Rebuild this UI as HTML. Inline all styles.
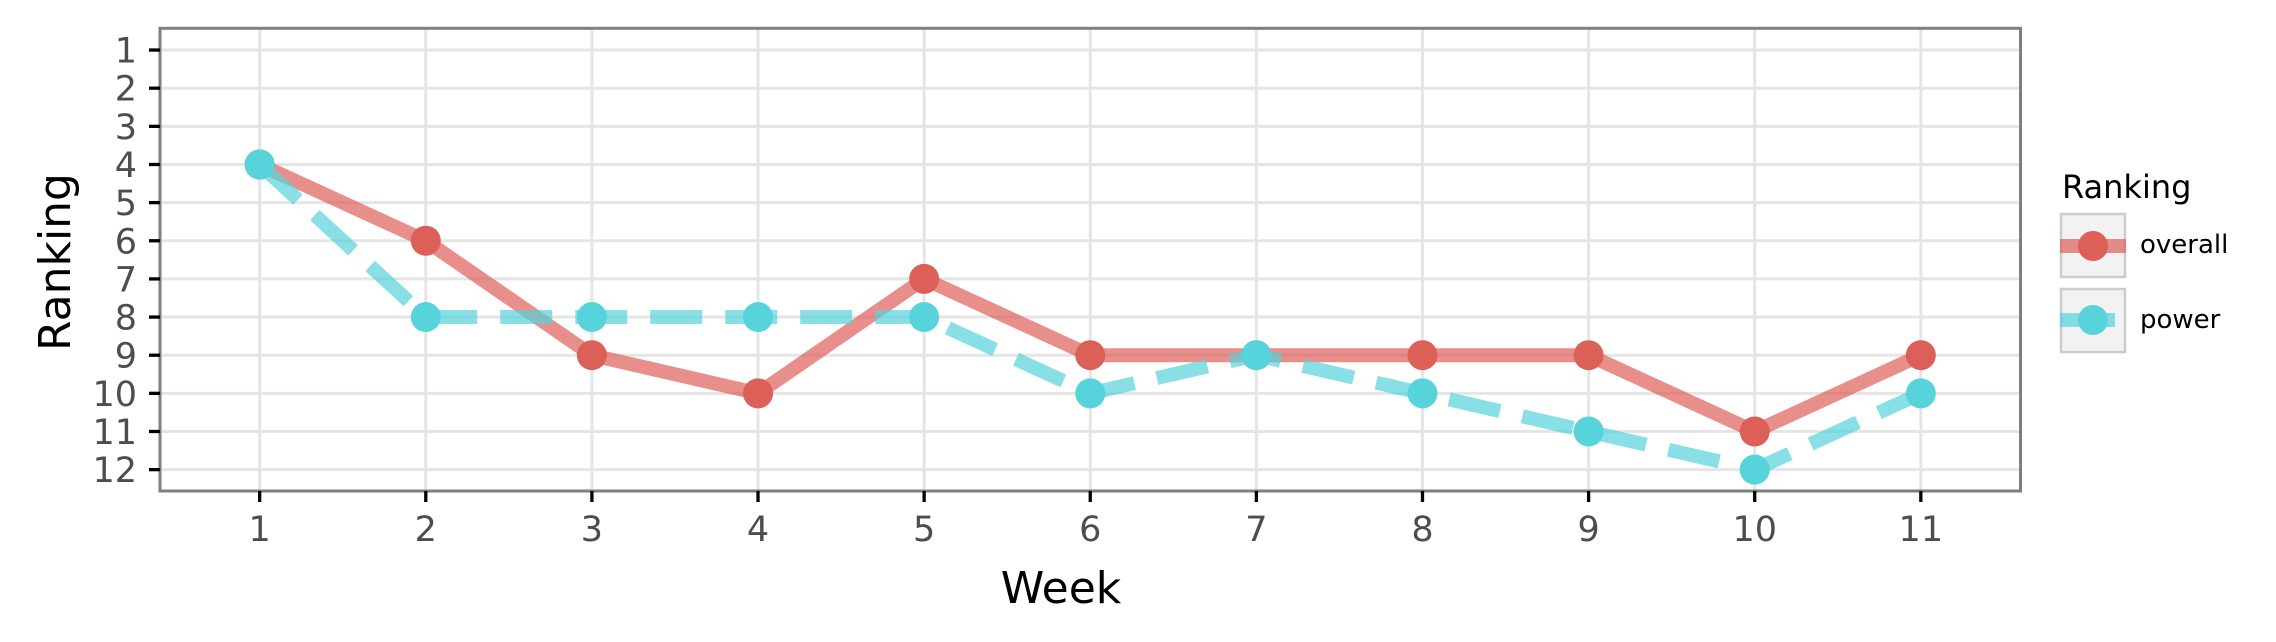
<!DOCTYPE html>
<html><head><meta charset="utf-8"><style>
html,body{margin:0;padding:0;background:#fff;}
svg{display:block;font-family:"DejaVu Sans","Liberation Sans",sans-serif;}
</style></head><body>
<svg id="chart" width="2276" height="642" viewBox="0 0 2276 642">
<g id="grid"></g>
<g id="series"></g>
<rect x="160" y="28.3" width="1860.5" height="462.7" fill="none" stroke="#7f7f7f" stroke-width="3"/>
<g id="axes"></g>
<text x="1061" y="603" font-size="44" text-anchor="middle" fill="#000">Week</text>
<text transform="translate(70,262) rotate(-90)" font-size="44" text-anchor="middle" fill="#000">Ranking</text>
<g>
<text x="2062" y="198" font-size="32" fill="#000">Ranking</text>
<g>
<rect x="2061" y="214" width="64" height="63" fill="#f2f2f2" stroke="#cccccc" stroke-width="2.5"/>
<line x1="2060" x2="2126" y1="246" y2="246" stroke="#e0605a" stroke-opacity="0.7" stroke-width="14"/>
<circle cx="2093" cy="246" r="15" fill="#dc5f58"/>
<text x="2140" y="253" font-size="26" fill="#000">overall</text>
</g>
<g>
<rect x="2061" y="289" width="64" height="63" fill="#f2f2f2" stroke="#cccccc" stroke-width="2.5"/>
<line x1="2060" x2="2115" y1="320" y2="320" stroke="#56d3db" stroke-opacity="0.7" stroke-width="14"/>
<circle cx="2093" cy="320" r="15" fill="#56d3db"/>
<text x="2140" y="328" font-size="26" fill="#000">power</text>
</g>
</g>
</svg>
<script>
const weeks=[1,2,3,4,5,6,7,8,9,10,11];
const overall=[4,6,9,10,7,9,9,9,9,11,9];
const power=[4,8,8,8,8,10,9,10,11,12,10];
const yTicks=[1,2,3,4,5,6,7,8,9,10,11,12];
const xTicks=[1,2,3,4,5,6,7,8,9,10,11];

const NS="http://www.w3.org/2000/svg";
const L=160,R=2020.5,T=28.3,B=491;
const xMin=0.4,xMax=11.6,yMin=0.43,yMax=12.56;
function sx(v){return L+(v-xMin)/(xMax-xMin)*(R-L);}
function sy(v){return T+(v-yMin)/(yMax-yMin)*(B-T);}
function mk(tag,attrs,parent){const e=document.createElementNS(NS,tag);for(const k in attrs)e.setAttribute(k,attrs[k]);parent.appendChild(e);return e;}
const grid=document.getElementById('grid'),axes=document.getElementById('axes'),series=document.getElementById('series');
yTicks.forEach(t=>{
 const g=mk('line',{x1:L,x2:R,y1:sy(t),y2:sy(t),stroke:'#e5e5e5','stroke-width':3},grid);
 
 
 const tk=mk('line',{x1:L-11,x2:L,y1:sy(t),y2:sy(t),stroke:'#000','stroke-width':3.3},axes);
 
 
 const tx=mk('text',{x:137,y:sy(t)+12.5,'font-size':35,'text-anchor':'end',fill:'#4d4d4d'},axes);
 tx.textContent=t;
 
 
});
xTicks.forEach(t=>{
 const g=mk('line',{x1:sx(t),x2:sx(t),y1:T,y2:B,stroke:'#e5e5e5','stroke-width':3},grid);
 
 
 const tk=mk('line',{x1:sx(t),x2:sx(t),y1:B,y2:B+11,stroke:'#000','stroke-width':3.3},axes);
 
 
 const tx=mk('text',{x:sx(t),y:541,'font-size':35,'text-anchor':'middle',fill:'#4d4d4d'},axes);
 tx.textContent=t;
 
 
});
function drawSeries(vals,lineColor,ptColor,dash,name){
 const pts=weeks.map((w,i)=>sx(w)+','+sy(vals[i])).join(' ');
 const pl=mk('polyline',{points:pts,fill:'none',stroke:lineColor,'stroke-opacity':0.7,'stroke-width':14,'stroke-linejoin':'round'},series);
 if(dash)pl.setAttribute('stroke-dasharray',dash);
 
 
 weeks.forEach((w,i)=>{
  const c=mk('circle',{cx:sx(w),cy:sy(vals[i]),r:15,fill:ptColor},series);
  
  
 });
}
drawSeries(overall,'#e0605a','#dc5f58',null,'overall');
drawSeries(power,'#56d3db','#56d3db','52 23','power');
</script>
</body></html>
